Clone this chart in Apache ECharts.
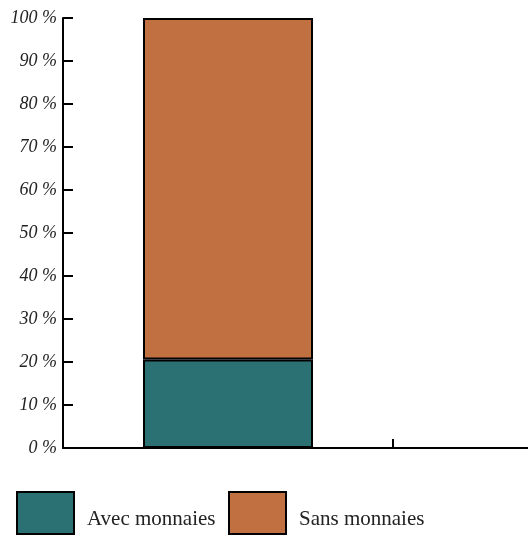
<!DOCTYPE html>
<html>
<head>
<meta charset="utf-8">
<script src="https://cdn.jsdelivr.net/npm/echarts@6/dist/echarts.min.js"></script>
<style>
  html, body { margin: 0; padding: 0; background: #fff; }
  #chart { width: 528px; height: 535px; }
</style>
</head>
<body>
<div id="chart"></div>
<script>
const categories = ['1', '2']
const avecValues = [20.6, null]
const sansValues = [79.4, null]
const seriesNames = ['Avec monnaies', 'Sans monnaies']
const colors = ['#2B7072', '#C07041']

const chart = echarts.init(document.getElementById('chart'))

function legendAt(name, left) {
  return {
    data: [name],
    icon: 'rect',
    left: left,
    top: 491,
    padding: 0,
    itemWidth: 57,
    itemHeight: 42,
    itemGap: 0,
    selectedMode: false,
    formatter: '{t|{name}}',
    textStyle: {
      fontFamily: 'Liberation Serif',
      fontSize: 21,
      color: '#222',
      rich: {
        t: {
          fontFamily: 'Liberation Serif',
          fontSize: 21,
          color: '#222',
          padding: [12, 0, 0, 8]
        }
      }
    }
  }
}

chart.setOption({
  animation: false,
  color: colors,
  legend: [legendAt(seriesNames[0], 16), legendAt(seriesNames[1], 228)],
  grid: { left: 63, right: -195, top: 18, bottom: 87, outerBoundsMode: 'none' },
  xAxis: {
    type: 'category',
    data: categories,
    axisLine: { lineStyle: { color: '#000', width: 2 } },
    axisTick: { show: true, inside: true, interval: 0, length: 9, lineStyle: { color: '#000', width: 2 } },
    axisLabel: { show: false, interval: 0 }
  },
  yAxis: {
    type: 'value',
    min: 0,
    max: 100,
    interval: 10,
    axisLine: { show: true, lineStyle: { color: '#000', width: 2 } },
    axisTick: { show: true, inside: true, length: 10, lineStyle: { color: '#000', width: 2 } },
    splitLine: { show: false },
    axisLabel: {
      formatter: '{value} %',
      fontFamily: 'Liberation Serif',
      fontStyle: 'italic',
      fontSize: 18,
      color: '#222',
      margin: 6
    }
  },
  series: [
    {
      name: seriesNames[0],
      type: 'bar',
      stack: 'total',
      barWidth: 170,
      data: avecValues,
      itemStyle: { color: colors[0], borderColor: '#000', borderWidth: 2 }
    },
    {
      name: seriesNames[1],
      type: 'bar',
      stack: 'total',
      barWidth: 170,
      data: sansValues,
      itemStyle: { color: colors[1], borderColor: '#000', borderWidth: 2 }
    }
  ]
})
</script>
</body>
</html>
